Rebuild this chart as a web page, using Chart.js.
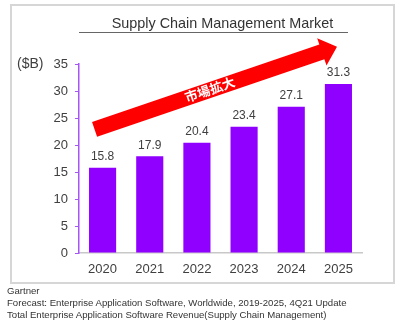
<!DOCTYPE html>
<html>
<head>
<meta charset="utf-8">
<script src="https://cdn.jsdelivr.net/npm/chart.js@4"></script>
<style>
  html, body { margin: 0; padding: 0; background: #fff; overflow: hidden; }
  #wrap { position: relative; width: 400px; height: 331px; }
  #title {
    position: absolute; left: 79px; top: 15px; width: 251px; padding-left: 18px;
    text-align: center; font: 14.4px "Liberation Sans", Arial, sans-serif; color: #333;
    border-bottom: 1px solid #666; padding-bottom: 0px; line-height: 17px;
  }
  #footer {
    position: absolute; left: 7px; top: 285px;
    font: 9.6px "Liberation Sans", Arial, sans-serif; color: #333; line-height: 12px;
  }
</style>
</head>
<body>
<div id="wrap">
  <canvas id="chart" width="400" height="331"></canvas>
  <div id="title">Supply Chain Management Market</div>
  <div id="footer">
    Gartner<br>
    Forecast: Enterprise Application Software, Worldwide, 2019-2025, 4Q21 Update<br>
    Total Enterprise Application Software Revenue(Supply Chain Management)
  </div>
</div>
<script>
// DATA
const years = ["2020", "2021", "2022", "2023", "2024", "2025"];
const revenue = [15.8, 17.9, 20.4, 23.4, 27.1, 31.3];
const yTicks = [0, 5, 10, 15, 20, 25, 30, 35];

// STYLE
const BAR_COLOR = "#9000ff";
const AXIS_PURPLE = "#a855f7";
const TEXT_COLOR = "#404040";
const FONT = '"Liberation Sans", Arial, sans-serif';

// ARROW (in data coords: category index, value)
const ARROW_FROM = [-0.17, 22.9];
const ARROW_TO = [4.97, 38.2];
const ARROW_TEXT = "市場拡大";

// frame around the chart
const framePlugin = {
    id: "frame",
    beforeDraw(chart) {
        const ctx = chart.ctx;
        ctx.save();
        ctx.fillStyle = "#fff";
        ctx.fillRect(0, 0, chart.width, chart.height);
        ctx.strokeStyle = "#d6d6d6";
        ctx.lineWidth = 2;
        ctx.strokeRect(11, 5, 383, 278);
        ctx.restore();
    }
};

// value labels, unit label, arrow
const extrasPlugin = {
    id: "extras",
    afterDatasetsDraw(chart) {
        const ctx = chart.ctx;
        const meta = chart.getDatasetMeta(0);
        ctx.save();
        ctx.fillStyle = TEXT_COLOR;
        ctx.font = "12px " + FONT;
        ctx.textAlign = "center";
        ctx.textBaseline = "bottom";
        meta.data.forEach((bar, i) => {
            ctx.fillText(revenue[i].toFixed(1), bar.x, bar.y - 5);
        });

        // ($B)
        const yScale = chart.scales.y;
        ctx.textAlign = "left";
        ctx.textBaseline = "middle";
        ctx.font = "14px " + FONT;
        ctx.fillText("($B)", 17, yScale.getPixelForValue(35));
        ctx.restore();
    },
    afterDraw(chart) {
        const ctx = chart.ctx;
        const xs = chart.scales.x, ys = chart.scales.y;
        const x0 = xs.getPixelForValue(ARROW_FROM[0]), y0 = ys.getPixelForValue(ARROW_FROM[1]);
        const x1 = xs.getPixelForValue(ARROW_TO[0]), y1 = ys.getPixelForValue(ARROW_TO[1]);
        const len = Math.hypot(x1 - x0, y1 - y0);
        const ang = Math.atan2(y1 - y0, x1 - x0);
        const sw = 7.8, hw = 14.5, hl = 16;

        ctx.save();
        ctx.translate(x0, y0);
        ctx.rotate(ang);
        ctx.fillStyle = "#ff0000";
        ctx.beginPath();
        ctx.moveTo(0, -sw);
        ctx.lineTo(len - hl, -sw);
        ctx.lineTo(len - hl, -hw);
        ctx.lineTo(len, 0);
        ctx.lineTo(len - hl, hw);
        ctx.lineTo(len - hl, sw);
        ctx.lineTo(0, sw);
        ctx.closePath();
        ctx.fill();

        ctx.fillStyle = "#fff";
        ctx.font = 'bold 13px "Noto Sans CJK JP", sans-serif';
        ctx.textAlign = "center";
        ctx.textBaseline = "middle";
        ctx.fillText(ARROW_TEXT, len * 0.476, -0.5);
        ctx.restore();
    }
};

new Chart(document.getElementById("chart"), {
    type: "bar",
    data: {
        labels: years,
        datasets: [{
            data: revenue,
            backgroundColor: BAR_COLOR,
            categoryPercentage: 1,
            barPercentage: 0.575
        }]
    },
    options: {
        responsive: false,
        animation: false,
        layout: { padding: { top: 64, right: 38, bottom: 0, left: 0 } },
        plugins: {
            legend: { display: false },
            tooltip: { enabled: false }
        },
        scales: {
            x: {
                grid: { display: false, drawTicks: false },
                border: { color: "#c8c8c8", width: 1.5 },
                ticks: { color: TEXT_COLOR, font: { size: 13, family: FONT }, padding: 9 },
                afterFit(scale) { scale.height = 78; }
            },
            y: {
                min: 0,
                max: 35,
                afterBuildTicks(scale) { scale.ticks = yTicks.map(v => ({ value: v })); },
                grid: { drawOnChartArea: false, drawTicks: true, tickLength: 4, color: AXIS_PURPLE },
                border: { color: AXIS_PURPLE, width: 1.5 },
                ticks: { color: TEXT_COLOR, font: { size: 13, family: FONT }, padding: 7 },
                afterFit(scale) { scale.width = 79; }
            }
        }
    },
    plugins: [framePlugin, extrasPlugin]
});
</script>
</body>
</html>
